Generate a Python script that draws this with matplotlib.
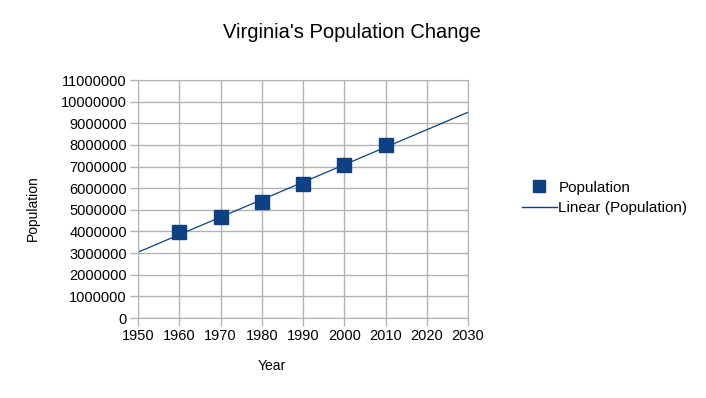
import numpy as np
import matplotlib
matplotlib.use("Agg")
import matplotlib.pyplot as plt
from matplotlib.lines import Line2D

# Daten (Volkszählung Virginia)
years = [1960, 1970, 1980, 1990, 2000, 2010]
population = [3966949, 4648494, 5346818, 6187358, 7078515, 8001024]
x_ticks = list(range(1950, 2031, 10))
y_ticks = list(range(0, 11000001, 1000000))

plt.rcParams['font.family'] = ['Liberation Sans', 'DejaVu Sans']

blue = "#0d4184"
grey = "#b3b3b3"

fig = plt.figure(figsize=(7.06, 3.98), dpi=100)
ax = fig.add_axes([138/706, 1-318/398, 330/706, 238/398])

# lineare Trendlinie über die Achsenbreite
k, d = np.polyfit(years, population, 1)
x_trend = np.array([x_ticks[0], x_ticks[-1]])
ax.plot(x_trend, k * x_trend + d, color=blue, linewidth=0.9, zorder=2)
ax.plot(years, population, linestyle="none", marker="s", markersize=10,
        color=blue, zorder=3)

ax.set_xlim(x_ticks[0], x_ticks[-1])
ax.set_ylim(y_ticks[0], y_ticks[-1])
ax.set_xticks(x_ticks)
ax.set_yticks(y_ticks)
ax.set_yticklabels([str(v) for v in y_ticks])
ax.grid(True, color=grey, linewidth=1)
ax.set_axisbelow(True)
for s in ax.spines.values():
    s.set_color(grey)
ax.tick_params(axis="both", colors=grey, labelcolor="black", labelsize=10.5,
               length=6, width=1, pad=2)

fig.text(352/706, 1-32/398, "Virginia's Population Change", ha="center", va="center", fontsize=14.5)
fig.text(33/706, 1-208/398, "Population", ha="center", va="center", rotation=90, fontsize=10)
fig.text(272/706, 1-366/398, "Year", ha="center", va="center", fontsize=10)

handles = [Line2D([], [], linestyle="none", marker="s", markersize=8, color=blue),
           Line2D([], [], color=blue, linewidth=1)]
fig.legend(handles, ["Population", "Linear (Population)"], loc="center left",
           bbox_to_anchor=(508/706, 1-198/398), frameon=False, fontsize=11,
           handlelength=2.3, handletextpad=0.1, labelspacing=0.45)

plt.savefig("out.png", dpi=100)
